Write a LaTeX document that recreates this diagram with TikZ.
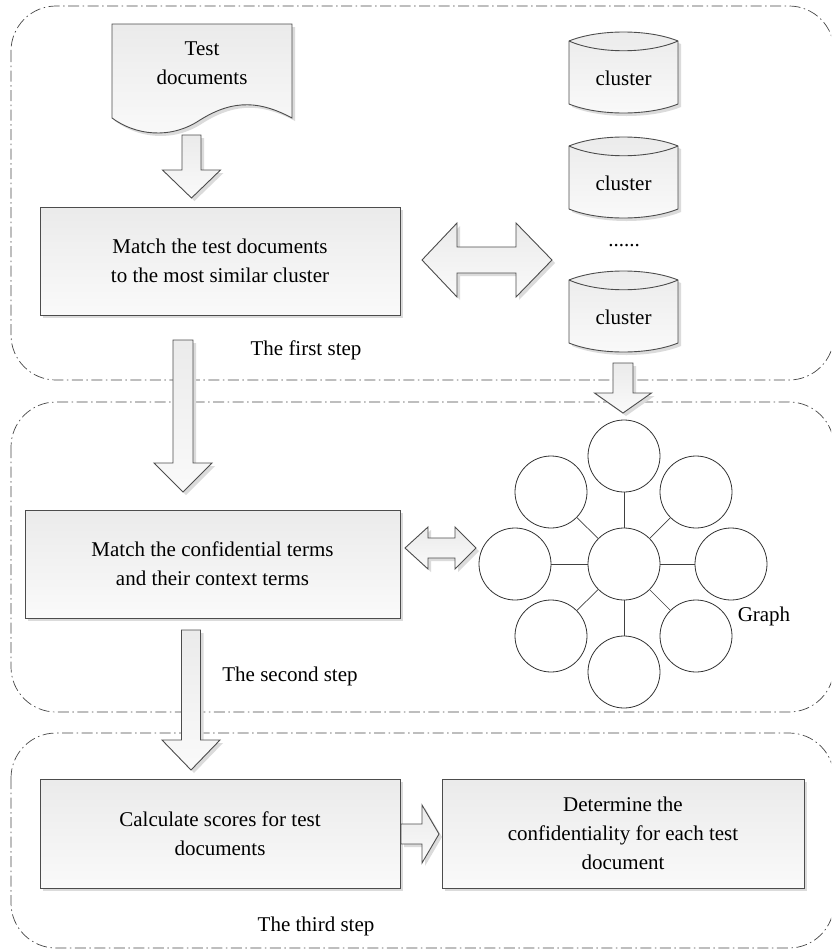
\documentclass[tikz,border=0pt]{standalone}
\usepackage{fontspec}
\setmainfont{Liberation Serif}
\usetikzlibrary{shadows,calc}

\tikzset{
  stepframe/.style={draw=black!72, line width=0.7pt,
    dash pattern=on 11pt off 3.5pt on 1.5pt off 3.5pt, rounded corners=45pt},
  shapefill/.style={draw=black!70, line width=0.9pt,
    top color=black!8, bottom color=black!2,
    drop shadow={shadow xshift=3pt, shadow yshift=-3pt, fill=black!14, opacity=1}},
  procbox/.style={shapefill, rectangle, align=center, inner sep=0pt,
    font=\fontsize{21}{29}\selectfont},
  txt/.style={font=\fontsize{21}{29}\selectfont, align=center, inner sep=0pt},
  gnode/.style={circle, draw=black!80, line width=0.8pt, minimum size=72pt,
    inner sep=0pt, fill=white},
  gedge/.style={draw=black!75, line width=0.7pt},
}

% block arrow pointing down: cx, ytop, yhead, ytip, shaft half width, head half width
\newcommand\blkdown[6]{%
  \path[shapefill] ({#1-#5},#2) -- ({#1+#5},#2) -- ({#1+#5},#3) -- ({#1+#6},#3)
    -- (#1,#4) -- ({#1-#6},#3) -- ({#1-#5},#3) -- cycle;}
% block arrow pointing right: xleft, xhead, xtip, cy, shaft half, head half
\newcommand\blkright[6]{%
  \path[shapefill] (#1,{#4-#5}) -- (#2,{#4-#5}) -- (#2,{#4-#6}) -- (#3,#4)
    -- (#2,{#4+#6}) -- (#2,{#4+#5}) -- (#1,{#4+#5}) -- cycle;}
% double block arrow: xleft tip, xright tip, cy, inner left, inner right, shaft half, head half
\newcommand\blkboth[7]{%
  \path[shapefill] (#1,#3) -- (#4,{#3-#7}) -- (#4,{#3-#6}) -- (#5,{#3-#6})
    -- (#5,{#3-#7}) -- (#2,#3) -- (#5,{#3+#7}) -- (#5,{#3+#6}) -- (#4,{#3+#6})
    -- (#4,{#3+#7}) -- cycle;}
% storage cylinder: cx, y of top rim, node name
\newcommand\storecyl[3]{%
  \path[shapefill] ({#1-54.5},#2) -- ({#1-54.5},{#2+63})
    .. controls ({#1-25},{#2+75}) and ({#1+25},{#2+75}) .. ({#1+54.5},{#2+63})
    -- ({#1+54.5},#2)
    .. controls ({#1+25},{#2-12}) and ({#1-25},{#2-12}) .. ({#1-54.5},#2) -- cycle;
  \draw[black!70, line width=0.9pt] ({#1-54.5},#2)
    .. controls ({#1-25},{#2+13}) and ({#1+25},{#2+13}) .. ({#1+54.5},#2);
  \node[txt] (#3) at (#1,{#2+37}) {cluster};}

\begin{document}
\begin{tikzpicture}[x=1pt,y=-1pt]
\useasboundingbox (0,0) rectangle (831,951);

% the three step frames (their right sides run just past the page edge)
\begin{scope}
\clip (0,0) rectangle (831,951);
\draw[stepframe] (11,6) rectangle (834,380);
\draw[stepframe] (11,402) rectangle (834,712);
\draw[stepframe] (11,733) rectangle (834,948);
\end{scope}

% step 1: document, matching, clusters
\path[shapefill] (112,24) -- (292,24) -- (292,118)
  .. controls (262,102) and (235,98) .. (200,120)
  .. controls (170,140) and (135,135) .. (112,118) -- cycle;
\node[txt] (doc) at (202,63) {Test\\documents};

\blkdown{191.5}{135}{170}{198}{9.5}{29}

\node[procbox, minimum width=360pt, minimum height=108pt] (match) at (220,261)
  {Match the test documents\\to the most similar cluster};

\blkboth{422}{552}{260}{457}{516}{13}{37}

\storecyl{623.5}{41}{clA}
\storecyl{623.5}{146}{clB}
\node[txt] (dots) at (624,246) {......};
\storecyl{623.5}{280}{clC}

\node[txt] (s1) at (306,350) {The first step};

% step 2: term matching against the graph
\blkdown{183}{340}{463}{492}{10}{29}
\blkdown{623}{363}{393}{413}{10}{28.5}

\node[procbox, minimum width=375pt, minimum height=108pt] (terms) at (212.5,564)
  {Match the confidential terms\\and their context terms};

\blkboth{405}{476}{548}{428}{455}{10}{21}

\node[gnode] (gc) at (624,564) {};
\node[gnode] (gt) at (624,456) {};
\node[gnode] (gb) at (624,672) {};
\node[gnode] (gl) at (515,564) {};
\node[gnode] (gr) at (731,564) {};
\node[gnode] (gul) at (551,492) {};
\node[gnode] (gur) at (696,492) {};
\node[gnode] (gll) at (551,636) {};
\node[gnode] (glr) at (696,636) {};
\foreach \n in {gt,gb,gl,gr,gul,gur,gll,glr}
  \draw[gedge] (gc) -- (\n);
\node[txt] (glabel) at (764,616) {Graph};

\node[txt] (s2) at (290,676) {The second step};

% step 3: scoring and decision
\blkdown{191}{630}{740}{770}{9.5}{29}

\node[procbox, minimum width=360pt, minimum height=109pt] (calc) at (220,833.5)
  {Calculate scores for test\\documents};
\node[procbox, minimum width=362pt, minimum height=109pt] (decide) at (623,833.5)
  {Determine the\\confidentiality for each test\\document};

\blkright{401}{422}{439}{834}{10}{29}

\node[txt] (s3) at (316,926) {The third step};
\end{tikzpicture}
\end{document}
